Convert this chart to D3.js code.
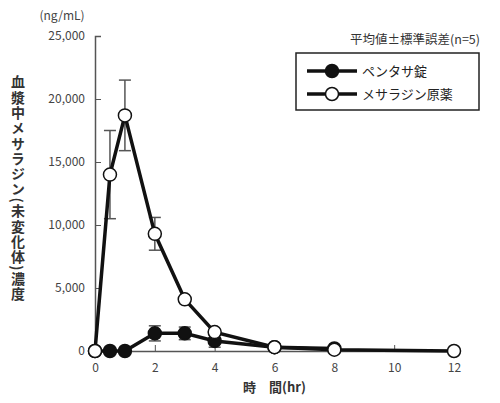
<!DOCTYPE html>
<html><head><meta charset="utf-8">
<script src="https://cdn.jsdelivr.net/npm/d3@7"></script>
<style>body{margin:0;background:#fff}</style>
</head><body><svg id="c" width="500" height="403"></svg>
<script>
// pentasa tablet (filled)
const tabletTime = [0, 0.5, 1, 2, 3, 4, 6, 8];
const tabletMean = [0, 0, 0, 1400, 1400, 800, 300, 200];
const tabletErr  = [0, 0, 0, 600, 500, 500, 0, 0];
// mesalazine bulk (open)
const bulkTime = [0, 0.5, 1, 2, 3, 4, 6, 8, 12];
const bulkMean = [0, 14000, 18700, 9300, 4100, 1500, 300, 100, 0];
const bulkErr  = [0, 3500, 2800, 1300, 0, 0, 0, 0, 0];
const xTicks = [0, 2, 4, 6, 8, 10, 12];
const yTicks = [0, 5000, 10000, 15000, 20000, 25000];

const svg = d3.select('#c');
const font = '"Noto Sans CJK JP", "Noto Sans", sans-serif';
const x = d3.scaleLinear().domain([0, 12]).range([95, 454]);
const y = d3.scaleLinear().domain([0, 25000]).range([351, 36]);
const grey = '#555';

svg.append('g').attr('transform', 'translate(0,351)')
  .call(d3.axisBottom(x).tickValues(xTicks).tickSize(-6).tickPadding(12))
  .call(g => { g.select('.domain').attr('stroke', grey).attr('stroke-width', 1.5);
    g.selectAll('line').attr('stroke', grey);
    g.selectAll('text').attr('font-family', font).attr('font-size', 12).attr('fill', '#444'); });
svg.append('g').attr('transform', 'translate(95,0)')
  .call(d3.axisLeft(y).tickValues(yTicks).tickSize(-6).tickPadding(10).tickFormat(d3.format(',')))
  .call(g => { g.select('.domain').attr('stroke', grey).attr('stroke-width', 1.5);
    g.selectAll('line').attr('stroke', grey);
    g.selectAll('text').attr('font-family', font).attr('font-size', 12).attr('fill', '#444'); });

svg.append('text').attr('x', 62).attr('y', 20).attr('text-anchor', 'middle')
  .attr('font-family', font).attr('font-size', 12).attr('fill', '#444').text('(ng/mL)');
svg.append('text').attr('x', 18).attr('y', 75)
  .attr('writing-mode', 'vertical-rl').attr('font-family', font).attr('font-size', 14)
  .attr('letter-spacing', 1.3)
  .attr('fill', '#333').attr('font-weight', 'bold').text('血漿中メサラジン(未変化体)濃度');
svg.append('text').attr('x', x(6)).attr('y', 392).attr('text-anchor', 'middle')
  .attr('font-family', font).attr('font-size', 13).attr('fill', '#333').attr('font-weight', 'bold')
  .text('時　間(hr)');

function errBars(t, m, e) {
  t.forEach((d, i) => {
    if (!e[i]) return;
    const cx = x(d);
    svg.append('line').attr('x1', cx).attr('x2', cx).attr('y1', y(m[i] - e[i])).attr('y2', y(m[i] + e[i]))
      .attr('stroke', grey).attr('stroke-width', 1.5);
    [m[i] - e[i], m[i] + e[i]].forEach(v => svg.append('line')
      .attr('x1', cx - 6).attr('x2', cx + 6).attr('y1', y(v)).attr('y2', y(v))
      .attr('stroke', grey).attr('stroke-width', 1.5));
  });
}
errBars(bulkTime, bulkMean, bulkErr);
errBars(tabletTime, tabletMean, tabletErr);

const line = d3.line().x(d => x(d[0])).y(d => y(d[1]));
function series(t, m, fill) {
  svg.append('path').datum(t.map((d, i) => [d, m[i]])).attr('d', line)
    .attr('fill', 'none').attr('stroke', '#111').attr('stroke-width', 3.5);
  svg.selectAll(null).data(t.map((d, i) => [d, m[i]])).join('circle')
    .attr('cx', d => x(d[0])).attr('cy', d => y(d[1])).attr('r', 6.5)
    .attr('fill', fill).attr('stroke', '#111').attr('stroke-width', 1.5);
}
series(tabletTime, tabletMean, '#111');
series(bulkTime, bulkMean, '#fff');

svg.append('text').attr('x', 480).attr('y', 44).attr('text-anchor', 'end')
  .attr('font-family', font).attr('font-size', 12.5).attr('fill', '#333').text('平均値±標準誤差(n=5)');
svg.append('rect').attr('x', 296).attr('y', 53).attr('width', 183).attr('height', 57)
  .attr('fill', '#fff').attr('stroke', '#222').attr('stroke-width', 1.5);
[['ペンタサ錠', '#111', 71], ['メサラジン原薬', '#fff', 94]].forEach(([lab, f, ly]) => {
  svg.append('line').attr('x1', 307).attr('x2', 357).attr('y1', ly).attr('y2', ly)
    .attr('stroke', '#111').attr('stroke-width', 3.5);
  svg.append('circle').attr('cx', 332).attr('cy', ly).attr('r', 6.5)
    .attr('fill', f).attr('stroke', '#111').attr('stroke-width', 1.5);
  svg.append('text').attr('x', 362).attr('y', ly + 4.5).attr('font-family', font)
    .attr('font-size', 13).attr('fill', '#222').text(lab);
});
</script></body></html>
